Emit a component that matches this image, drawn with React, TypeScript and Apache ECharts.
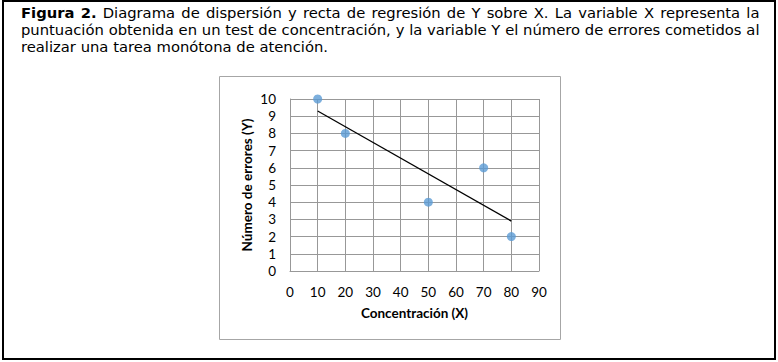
import React, { useEffect, useRef } from "react";
import * as echarts from "echarts";

const pointsX = [10, 20, 50, 70, 80];
const pointsY = [10, 8, 4, 6, 2];
const trendX = [10, 80];
const trendY = [9.3, 2.9];
const xTicks = { min: 0, max: 90, interval: 10 };
const yTicks = { min: 0, max: 10, interval: 1 };
const captionLines = [
  "Figura 2. Diagrama de dispersión y recta de regresión de Y sobre X. La variable X representa la",
  "puntuación obtenida en un test de concentración, y la variable Y el número de errores cometidos al",
  "realizar una tarea monótona de atención.",
];
const boldWords = ["Figura", "2."];
const xName = "Concentración (X)";
const yName = "Número de errores (Y)";

const CAP_FONT = '"DejaVu Sans"';
const CAP_SIZE = 14;
const CAP_SX = 1.055;
const AX_FONT = "Lato";

function buildCaption(): any[] {
  const canvas = document.createElement("canvas");
  const ctx = canvas.getContext("2d")!;
  const measure = (t: string, bold: boolean) => {
    ctx.font = `${bold ? "bold " : ""}${CAP_SIZE}px ${CAP_FONT}`;
    return ctx.measureText(t).width * CAP_SX;
  };
  const L = 21;
  const R = 759.5;
  const baseY = [13.3, 30.1, 46.9];
  const els: any[] = [];
  captionLines.forEach((line, li) => {
    const words = line.split(" ");
    const isBold = (w: string, wi: number) => li === 0 && wi < boldWords.length && boldWords[wi] === w;
    const widths = words.map((w, wi) => measure(w, isBold(w, wi)));
    const total = widths.reduce((a, b) => a + b, 0);
    const last = li === captionLines.length - 1;
    const gap = last ? measure(" ", false) : (R - L - total) / (words.length - 1);
    let x = L;
    words.forEach((w, wi) => {
      els.push({
        type: "text",
        x,
        y: baseY[li],
        scaleX: CAP_SX,
        style: {
          text: w,
          fontFamily: CAP_FONT,
          fontSize: CAP_SIZE,
          fontWeight: isBold(w, wi) ? "bold" : "normal",
          fill: "#000",
          verticalAlign: "middle",
          align: "left",
        },
      });
      x += widths[wi] + gap;
    });
  });
  return els;
}

export default function App() {
  const ref = useRef<HTMLDivElement>(null);
  useEffect(() => {
    if (!ref.current) return;
    const chart = echarts.init(ref.current, null, { renderer: "svg" });
    const gridColor = "#989898";
    chart.setOption({
      animation: false,
      backgroundColor: "#fff",
      grid: { left: 290, top: 99, width: 249, height: 172, containLabel: false },
      xAxis: {
        type: "value",
        min: xTicks.min,
        max: xTicks.max,
        interval: xTicks.interval,
        name: xName,
        nameLocation: "middle",
        nameGap: 35,
        nameTextStyle: { fontFamily: AX_FONT, fontWeight: "bold", fontSize: 13.5, color: "#000" },
        axisLine: { show: true, lineStyle: { color: gridColor, width: 1 } },
        axisTick: { show: false },
        axisLabel: { margin: 14, fontFamily: AX_FONT, fontSize: 13.5, color: "#000" },
        splitLine: { show: true, lineStyle: { color: gridColor, width: 1 } },
      },
      yAxis: {
        type: "value",
        min: yTicks.min,
        max: yTicks.max,
        interval: yTicks.interval,
        name: yName,
        nameLocation: "middle",
        nameGap: 36,
        nameRotate: 90,
        nameTextStyle: { fontFamily: AX_FONT, fontWeight: "bold", fontSize: 13.5, color: "#000" },
        axisLine: { show: true, lineStyle: { color: gridColor, width: 1 } },
        axisTick: { show: false },
        axisLabel: { margin: 14, fontFamily: AX_FONT, fontSize: 13.5, color: "#000" },
        splitLine: { show: true, lineStyle: { color: gridColor, width: 1 } },
      },
      series: [
        {
          type: "line",
          data: trendX.map((x, i) => [x, trendY[i]]),
          symbol: "none",
          lineStyle: { color: "#000", width: 1.3 },
          z: 3,
        },
        {
          type: "scatter",
          data: pointsX.map((x, i) => [x, pointsY[i]]),
          symbolSize: 9,
          itemStyle: { color: "#5B9BD5" },
          z: 4,
        },
      ],
      graphic: [
        {
          type: "rect",
          shape: { x: 3, y: 1, width: 772, height: 358 },
          style: { fill: "none", stroke: "#000", lineWidth: 2 },
          silent: true,
        },
        {
          type: "rect",
          shape: { x: 219.5, y: 76.5, width: 341, height: 263 },
          style: { fill: "none", stroke: "#a6a6a6", lineWidth: 1 },
          silent: true,
        },
        ...buildCaption(),
      ],
    });
    return () => chart.dispose();
  }, []);
  return (
    <div
      ref={ref}
      style={{ position: "fixed", left: 0, top: 0, width: 778, height: 362, background: "#fff" }}
    />
  );
}
